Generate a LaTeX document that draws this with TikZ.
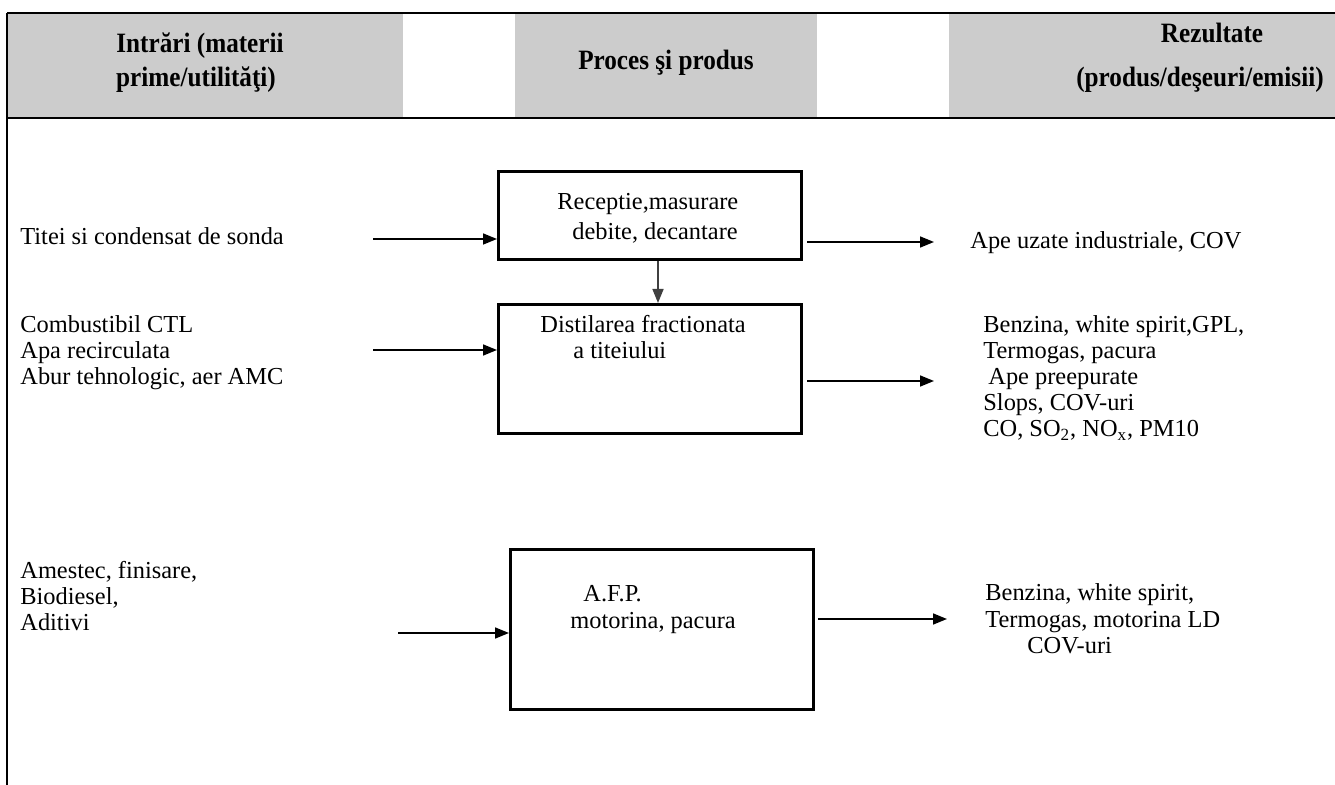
\documentclass[tikz,border=0pt]{standalone}
\usepackage{fontspec}
\setmainfont{Liberation Serif}
\newfontfamily\hdrfont[FakeStretch=0.9]{Liberation Serif}
\usetikzlibrary{arrows.meta}
\definecolor{hdrgray}{RGB}{204,204,204}
\definecolor{vline}{RGB}{64,64,64}
\begin{document}
\begin{tikzpicture}[x=0.5pt,y=-0.5pt,
  every node/.style={inner sep=0pt,font=\fontsize{12.2}{14}\selectfont},
  lbl/.style={anchor=base west},
  hlbl/.style={anchor=center,font=\hdrfont\fontsize{14}{16}\selectfont\bfseries},
  procbox/.style={draw,line width=1.5pt,rectangle,anchor=north west},
  arr/.style={line width=0.8pt,-{Triangle[length=7pt,width=5.5pt]}},
  frame/.style={line width=1pt}]
\useasboundingbox (0,0) rectangle (1335,785);
% header
\fill[hdrgray] (7,13) rectangle (403,118);
\fill[hdrgray] (515,13) rectangle (817,118);
\fill[hdrgray] (949,13) rectangle (1335,118);
\draw[frame] (7,13) -- (1335,13);
\draw[frame] (7,118) -- (1335,118);
\draw[frame] (7,13) -- (7,785);
\node[hlbl] (h1a) at (200,46) {Intrări (materii};
\node[hlbl] (h1b) at (196,80) {prime/utilităţi)};
\node[hlbl] (h2) at (666,63) {Proces şi produs};
\node[hlbl] (h3a) at (1212,33) {Rezultate};
\node[hlbl] (h3b) at (1200,80) {(produs/deşeuri/emisii)};
% boxes
\node[procbox,minimum width=303*0.5pt,minimum height=88*0.5pt] (box1) at (497,170) {};
\node[procbox,minimum width=303*0.5pt,minimum height=129*0.5pt] (box2) at (497,303) {};
\node[procbox,minimum width=303*0.5pt,minimum height=160*0.5pt] (box3) at (509,548) {};
% box texts
\node[lbl] (t1a) at (557,210) {Receptie,masurare};
\node[lbl] (t1b) at (572,240) {debite, decantare};
\node[lbl] (t2a) at (540,333) {Distilarea fractionata};
\node[lbl] (t2b) at (573,359) {a titeiului};
\node[lbl] (t3a) at (583,602) {A.F.P.};
\node[lbl] (t3b) at (570,629) {motorina, pacura};
% left labels
\node[lbl] (l1) at (20,245) {Titei si condensat de sonda};
\node[lbl] (l2a) at (20,333) {Combustibil CTL};
\node[lbl] (l2b) at (20,359) {Apa recirculata};
\node[lbl] (l2c) at (20,385) {Abur tehnologic, aer AMC};
\node[lbl] (l3a) at (20,579) {Amestec, finisare,};
\node[lbl] (l3b) at (20,605) {Biodiesel,};
\node[lbl] (l3c) at (20,631) {Aditivi};
% right labels
\node[lbl] (r1) at (970,249) {Ape uzate industriale, COV};
\node[lbl] (r2a) at (983,333) {Benzina, white spirit,GPL,};
\node[lbl] (r2b) at (983,359) {Termogas, pacura};
\node[lbl] (r2c) at (988,385) {Ape preepurate};
\node[lbl] (r2d) at (983,411) {Slops, COV-uri};
\node[lbl] (r2e) at (983,437) {CO, SO\textsubscript{2}, NO\textsubscript{x}, PM10};
\node[lbl] (r3a) at (985,601) {Benzina, white spirit,};
\node[lbl] (r3b) at (985,628) {Termogas, motorina LD};
\node[lbl] (r3c) at (1027,654) {COV-uri};
% arrow coordinates
\coordinate (in1) at (373,239);
\coordinate (in2) at (373,350);
\coordinate (in3) at (398,633);
\coordinate (o1s) at (807,242);
\coordinate (o1e) at (934,242);
\coordinate (o2s) at (807,381);
\coordinate (o2e) at (934,381);
\coordinate (o3s) at (818,619);
\coordinate (o3e) at (947,619);
\coordinate (vx) at (658,0);
% connectors
\draw[arr] (in1) -- (box1.west |- in1);
\draw[arr] (in2) -- (box2.west |- in2);
\draw[arr] (in3) -- (box3.west |- in3);
\draw[arr] (o1s) -- (o1e);
\draw[arr] (o2s) -- (o2e);
\draw[arr] (o3s) -- (o3e);
\draw[arr,draw=vline,fill=vline] (box1.south -| vx) -- (box2.north -| vx);
\end{tikzpicture}
\end{document}
